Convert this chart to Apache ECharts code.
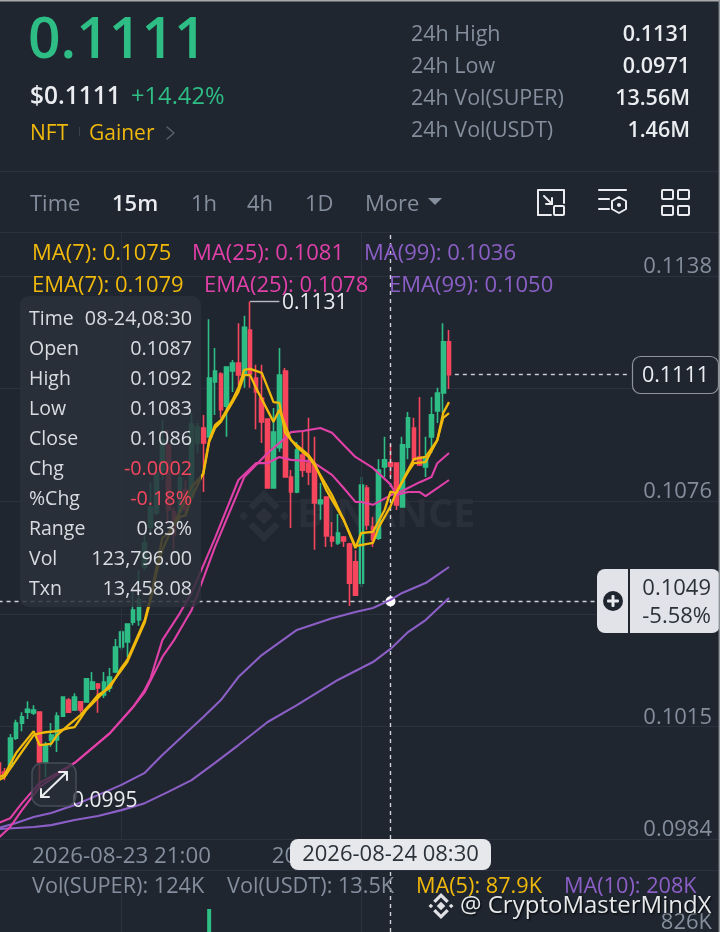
<!DOCTYPE html>
<html><head><meta charset="utf-8">
<style>html,body{margin:0;padding:0;background:#1f2630}#c{width:720px;height:932px}</style>
<script src="https://cdn.jsdelivr.net/npm/echarts@6/dist/echarts.min.js"></script>
</head><body><div id="c"></div>
<script>
const times=["15:45","16:00","16:15","16:30","16:45","17:00","17:15","17:30","17:45","18:00","18:15","18:30","18:45","19:00","19:15","19:30","19:45","20:00","20:15","20:30","20:45","21:00","21:15","21:30","21:45","22:00","22:15","22:30","22:45","23:00","23:15","23:30","23:45","00:00","00:15","00:30","00:45","01:00","01:15","01:30","01:45","02:00","02:15","02:30","02:45","03:00","03:15","03:30","03:45","04:00","04:15","04:30","04:45","05:00","05:15","05:30","05:45","06:00","06:15","06:30","06:45","07:00","07:15","07:30","07:45","08:00","08:15","08:30","08:45","09:00","09:15","09:30","09:45","10:00","10:15","10:30","10:45","11:00"];
const opens=[.10048,.10023,.10040,.10116,.10157,.10187,.10185,.10187,.10048,.10111,.10111,.10176,.10220,.10193,.10215,.10215,.10250,.10264,.10234,.10253,.10297,.10365,.10379,.10433,.10439,.10584,.10693,.10732,.10849,.10918,.10735,.10735,.10795,.10775,.10923,.10964,.10940,.11090,.11112,.11024,.11120,.11142,.11112,.11232,.11101,.11046,.10989,.10800,.10910,.11120,.10830,.10789,.10890,.10868,.10863,.10757,.10775,.10666,.10650,.10666,.10647,.10598,.10540,.10800,.10693,.10663,.10858,.1087,.10868,.10748,.10912,.10964,.10885,.10858,.10940,.11011,.11060,.11200];
const closes=[.10015,.10015,.10116,.10157,.10174,.10195,.10193,.10051,.10097,.10124,.10176,.10228,.10187,.10228,.10193,.10278,.10269,.10253,.10269,.10283,.10365,.10406,.10428,.10466,.10494,.10650,.10748,.10841,.10931,.10740,.10672,.10827,.10740,.10975,.10967,.10923,.11101,.11120,.11014,.11131,.11142,.11109,.11240,.11112,.11063,.10981,.10800,.10953,.11109,.10830,.10789,.10904,.10849,.10844,.10759,.10767,.10669,.10655,.10677,.10655,.10540,.10507,.10808,.10699,.10658,.10849,.10877,.1086,.10754,.10918,.10992,.10877,.10863,.10885,.11000,.11060,.11200,.1111];
const lows=[.10012,.10001,.10037,.10111,.10135,.10168,.10179,.09982,.10009,.10092,.10078,.10174,.10185,.10190,.10185,.10213,.10250,.10185,.10226,.10242,.10294,.10357,.10338,.10425,.10423,.10576,.10677,.10726,.10822,.10704,.10631,.10713,.10726,.10767,.10896,.10789,.10938,.11000,.10992,.10940,.11063,.11082,.11074,.11074,.10961,.10923,.10798,.10798,.10899,.10828,.10691,.10786,.10830,.10808,.10631,.10713,.10639,.10639,.10644,.10639,.10477,.10505,.10529,.10685,.10639,.10658,.10830,.1083,.10740,.10746,.10879,.10868,.10860,.10830,.10896,.10978,.11005,.11071];
const highs=[.10048,.10034,.10127,.10166,.10187,.10217,.10206,.10187,.10105,.10157,.10187,.10230,.10226,.10239,.10217,.10280,.10297,.10267,.10297,.10308,.10387,.10412,.10430,.10529,.10576,.10672,.10816,.10858,.10986,.10959,.10748,.10855,.10822,.11005,.10978,.11000,.11262,.11183,.11117,.11133,.11150,.11251,.11271,.1131,.11137,.11137,.10991,.11019,.11183,.11128,.10849,.10926,.10956,.10992,.10940,.10814,.10777,.10707,.10729,.10669,.10650,.10630,.10830,.10808,.10721,.10879,.10940,.1092,.10870,.10940,.11008,.10992,.11049,.10940,.11049,.11074,.11251,.11232];
const ema7=[[0,.10009],[1,.10015],[3,.10075],[6,.10135],[7,.10097],[9,.10100],[10,.10124],[12,.10152],[14,.10179],[16,.10215],[17,.10234],[19,.10253],[21,.10308],[22,.10330],[25,.10439],[26,.10502],[27,.10584],[28,.10663],[29,.10677],[31,.10721],[32,.10726],[33,.10775],[35,.10841],[36,.10931],[37,.10972],[38,.10986],[40,.11041],[41,.11074],[42,.11123],[43,.11126],[45,.11115],[47,.11035],[48,.11033],[49,.10951],[51,.10912],[53,.10885],[54,.10863],[57,.10781],[59,.10713],[61,.10636],[62,.10677],[64,.10680],[66,.10740],[67,.1079],[68,.10786],[70,.10849],[71,.10879],[73,.10885],[75,.10931],[76,.11005],[77,.11035]];
const ma7=[[0,.10001],[1,.10009],[3,.10056],[6,.10124],[7,.10129],[8,.10132],[10,.10135],[12,.10143],[13,.10146],[15,.10193],[17,.10226],[18,.10242],[20,.10280],[22,.10324],[25,.10433],[26,.10494],[27,.10568],[28,.10631],[29,.10666],[30,.10704],[32,.10767],[33,.10803],[35,.10838],[36,.10926],[37,.10964],[38,.10981],[40,.11035],[41,.11063],[42,.11109],[43,.11109],[44,.11074],[47,.10981],[48,.11014],[50,.10931],[53,.10890],[54,.10868],[56,.10795],[59,.10713],[61,.10641],[64,.10650],[65,.10693],[67,.1075],[68,.10789],[70,.10844],[71,.10868],[73,.10871],[75,.10931],[76,.10992],[77,.11005]];
const ema25=[[0,.09884],[2,.09897],[4,.09938],[7,.09993],[13,.10048],[19,.10129],[23,.10201],[25,.10248],[26,.10280],[28,.10384],[31,.10458],[33,.10513],[37,.10663],[41,.10822],[44,.10868],[46,.10868],[48,.10885],[50,.10877],[53,.10874],[54,.10868],[57,.10836],[59,.10800],[61,.10762],[62,.10762],[64,.10754],[67,.1078],[69,.10792],[72,.10816],[74,.10830],[75,.10868],[77,.10896]];
const ma25=[[0,.09843],[2,.09873],[4,.09919],[7,.09982],[13,.10048],[19,.10129],[23,.10201],[25,.10242],[28,.10338],[30,.10384],[32,.10439],[33,.10466],[37,.10639],[42,.10830],[44,.10863],[46,.10896],[49,.10937],[50,.10953],[52,.10956],[55,.10964],[57,.10951],[59,.10918],[61,.10885],[64,.10855],[67,.1081],[68,.10781],[70,.10789],[72,.10789],[73,.10778],[75,.10800],[77,.10822]];
const ema99=[[0,.09870],[3,.09884],[6,.09900],[9,.09911],[13,.09933],[17,.09960],[21,.09988],[25,.10021],[28,.10070],[32,.10129],[35,.10174],[38,.10220],[41,.10283],[45,.10343],[51,.10412],[57,.10444],[61,.10461],[64,.10472],[67,.10494],[69,.10513],[73,.10540],[75,.10562],[77,.10584]];
const ma99=[[0,.09867],[6,.09873],[9,.09878],[13,.09892],[17,.09903],[21,.09919],[25,.09938],[29,.09969],[33,.10001],[37,.10048],[41,.10097],[46,.10160],[51,.10206],[58,.10275],[64,.10324],[67,.1036],[70,.10406],[73,.10439],[77,.10499]];
const volumes=[[36,1300000]];
const priceTicks=[.1138,.11072,.10764,.10456,.10148,.0984];
const volTicks=[826000];
const FONT="'Open Sans'";
const G='#2EBD85',R='#F6465D',Y='#F0B90B',P='#E040A8',V='#8C5FC6',GR='#848E9C',LINE='#2b323d',W='#EAECEF';
const cats=[];
for(let i=0;i<124;i++){
  if(i<times.length){const d=i<33?'2026-08-23':'2026-08-24';cats.push(d+' '+times[i]);}else cats.push('b'+i);
}
const CURSOR=67;
const gfx=[];
function t(x,y,s,fill,size,opt){opt=opt||{};gfx.push({type:'text',x,y:y+2,z:opt.z||60,style:{text:s,fill,font:(opt.w||400)+' '+size+'px '+FONT,textAlign:opt.a||'left',textVerticalAlign:'middle',textShadowColor:opt.sc,textShadowBlur:opt.sb||0,textShadowOffsetY:opt.sy||0,textShadowOffsetX:opt.sy||0}});}
function r(x,y,w,h,fill,o){o=o||{};gfx.push({type:'rect',z:o.z||50,shape:{x,y,width:w,height:h,r:o.r||0},style:{fill,stroke:o.s||null,lineWidth:o.lw||1}});}
function pl(pts,stroke,lw,z){gfx.push({type:'polyline',z:z||60,shape:{points:pts},style:{stroke,lineWidth:lw,fill:null,lineJoin:'round',lineCap:'round'}});}
function logo(cx,cy,k,fill,z){
  const P2=(a)=>({type:'polygon',z:z,shape:{points:a.map(p=>[cx+p[0]*k,cy+p[1]*k])},style:{fill}});
  gfx.push(P2([[0,-3],[3,0],[0,3],[-3,0]]),P2([[-7,-1.6],[-5.4,0],[-7,1.6],[-8.6,0]]),P2([[7,-1.6],[8.6,0],[7,1.6],[5.4,0]]),
  P2([[0,-9],[5.4,-3.6],[3.8,-2],[0,-5.8],[-3.8,-2],[-5.4,-3.6]]),P2([[0,9],[-5.4,3.6],[-3.8,2],[0,5.8],[3.8,2],[5.4,3.6]]));
}
// frame
r(0,0,720,1.5,'#a9a9a9',{z:90});
r(718.6,0,1.4,932,'#8f949b',{z:90});
r(0,171,720,1,LINE,{z:1});
r(0,232,720,1,LINE,{z:1});
r(0,870,720,1,LINE,{z:1});
// header
t(28,40,'0.1111',G,57,{w:600});
t(30,95,'$0.1111',W,24.5,{w:600});
t(131,95,'+14.42%',G,23.7);
t(30,132,'NFT',Y,21,{w:500});
r(79,127,1,9,'#3a414c',{z:2});
t(89,132,'Gainer',Y,21,{w:500});
pl([[167,127],[174,133],[167,139]],'#5a616c',1.5);
const stats=[['24h High','0.1131',33],['24h Low','0.0971',65],['24h Vol(SUPER)','13.56M',97],['24h Vol(USDT)','1.46M',129]];
stats.forEach(a=>{t(411,a[2],a[0],GR,21.5);t(690,a[2],a[1],W,21.5,{a:'right',w:600});});
// tabs
[['Time',30,GR,400],['15m',112,W,600],['1h',191,GR,400],['4h',247,GR,400],['1D',305,GR,400],['More',365,GR,400]].forEach(a=>t(a[1],203,a[0],a[2],22,{w:a[3]}));
gfx.push({type:'polygon',z:60,shape:{points:[[428,198],[442,198],[435,205]]},style:{fill:GR}});
// icons
pl([[538,215],[538,190],[564,190],[564,203]],W,2);pl([[538,215],[551,215]],W,2);
gfx.push({type:'rect',z:60,shape:{x:554,y:206,width:10,height:9,r:1},style:{fill:null,stroke:W,lineWidth:2}});
pl([[544,196],[552,204]],W,2);pl([[552,198],[552,204],[546,204]],W,2);
pl([[599,190],[626,190]],W,2);pl([[599,199],[609,199]],W,2);pl([[599,209],[609,209]],W,2);
pl([[619,197],[626,201],[626,209],[619,213],[612,209],[612,201],[619,197]],W,2);
gfx.push({type:'circle',z:60,shape:{cx:619,cy:205,r:2},style:{fill:W}});
[[662,190],[678,190],[662,206],[678,206]].forEach(q=>gfx.push({type:'rect',z:60,shape:{x:q[0],y:q[1],width:11,height:9,r:1},style:{fill:null,stroke:W,lineWidth:2}}));
// legends
t(32,252,'MA(7): 0.1075',Y,22);t(192,252,'MA(25): 0.1081',P,22);t(364,252,'MA(99): 0.1036',V,22);
t(32,284,'EMA(7): 0.1079',Y,22);t(204,284,'EMA(25): 0.1078',P,22);t(389,284,'EMA(99): 0.1050',V,22);
// watermark
logo(264,516,2.9,'#2a303a',1);
t(297,514,'BINANCE','#2a303a',39.5,{w:700,z:1});
// high/low labels
t(282,301,'0.1131',W,21,{z:20});
t(72,799,'0.0995',W,21,{z:20});
// tooltip panel
r(20,296,181,311,'rgba(43,49,59,0.85)',{z:70,r:9});
const tip=[['Time','08-24,08:30',W],['Open','0.1087',W],['High','0.1092',W],['Low','0.1083',W],['Close','0.1086',W],['Chg','-0.0002',R],['%Chg','-0.18%',R],['Range','0.83%',W],['Vol','123,796.00',W],['Txn','13,458.08',W]];
tip.forEach((a,i)=>{const y=317+i*30;t(29,y,a[0],'#d8dbe0',19.5,{z:75});t(192,y,a[1],a[2]===W?'#d8dbe0':a[2],19.8,{z:75,a:'right'});});
// price tag
r(632.5,356.5,86,37,'#1f2630',{z:70,r:8,s:'#8f949b',lw:1.2});
t(709,374,'0.1111',W,21.5,{z:75,a:'right'});
// crosshair tag
r(597,569,123,64,'#e1e3e8',{z:70,r:8});
r(628,569,2,64,'#1f2630',{z:72});
gfx.push({type:'circle',z:73,shape:{cx:613,cy:601,r:10},style:{fill:'#1f2630'}});
r(607,599.5,12,3,'#e8eaed',{z:74,r:1});r(611.5,595,3,12,'#e8eaed',{z:74,r:1});
t(711,587,'0.1049','#2b3139',22,{z:75,a:'right'});
t(711,615,'-5.58%','#2b3139',22,{z:75,a:'right'});
// date tag
r(290,839,201,31,'#e6e8ec',{z:70,r:8});
t(390.5,853,'2026-08-24 08:30','#2b3139',22,{z:75,a:'center'});
// expand button
r(32,763,44,43,'rgba(42,48,58,0.75)',{z:70,r:10,s:'#454c58',lw:1.5});
pl([[41,797],[67,772]],W,2,75);pl([[41,789],[41,797],[49,797]],W,2,75);pl([[59,772],[67,772],[67,780]],W,2,75);
// volume legends
t(32,885,'Vol(SUPER): 124K',GR,21.7);t(227,885,'Vol(USDT): 13.5K',GR,21.7);
t(416,885,'MA(5): 87.9K',Y,21.7);t(564,885,'MA(10): 208K',V,21.7);
// attribution
logo(441,906,1.45,'#dfe1e5',80);
t(460,904,'@ CryptoMasterMindX','#e6e8ea',24,{z:80,sc:'rgba(0,0,0,0.9)',sb:2,sy:1});

const candle=opens.map((o,i)=>[o,closes[i],lows[i],highs[i]]);
const ln=(name,data,color,z,w)=>({name,type:'line',data,xAxisIndex:0,yAxisIndex:0,symbol:'none',showSymbol:false,z:z||5,lineStyle:{color,width:w||2.1},silent:true,animation:false});
const dash={color:'#cfd2d6',type:[4,4],width:1.4};
const LEFT=-4.375;
const chart=echarts.init(document.getElementById('c'),null,{renderer:'canvas'});
chart.setOption({
  animation:false,backgroundColor:'#1f2630',textStyle:{fontFamily:FONT},
  grid:[{left:LEFT,top:233,width:725.4,height:606,containLabel:false,outerBoundsMode:'none'},{left:LEFT,top:870,width:725.4,height:62,containLabel:false,outerBoundsMode:'none'}],
  xAxis:[
   {type:'category',gridIndex:0,data:cats,boundaryGap:true,axisLine:{show:false},axisTick:{show:false},splitLine:{show:false},
    axisLabel:{color:GR,fontSize:22.3,margin:7,fontFamily:FONT,hideOverlap:false,interval:(i)=>i===21||i===62}},
   {type:'category',gridIndex:1,data:cats,boundaryGap:true,axisLine:{show:false},axisTick:{show:false},axisLabel:{show:false},splitLine:{show:false}}
  ],
  yAxis:[
   {type:'value',gridIndex:0,position:'right',min:.0984,max:.114976,scale:true,
    axisLine:{show:false},axisTick:{show:false,customValues:priceTicks},
    splitLine:{show:true,lineStyle:{color:LINE,width:1}},
    axisLabel:{inside:true,customValues:priceTicks,color:GR,fontSize:22,margin:9,fontFamily:FONT,verticalAlign:'bottom',padding:[0,0,-2,0],showMinLabel:true,showMaxLabel:true,formatter:v=>v.toFixed(4)}},
   {type:'value',gridIndex:1,position:'right',min:826000,max:2104000,scale:true,axisLine:{show:false},axisTick:{show:false,customValues:volTicks},splitLine:{show:false},
    axisLabel:{inside:true,customValues:volTicks,color:GR,fontSize:22,margin:9,fontFamily:FONT,verticalAlign:'bottom',padding:[0,0,-2,0],showMinLabel:true,formatter:v=>Math.round(v/1000)+'K'}}
  ],
  series:[
   {type:'line',name:'gridV',data:[],xAxisIndex:0,yAxisIndex:0,z:1,symbol:'none',silent:true,
    markLine:{silent:true,symbol:'none',animation:false,label:{show:false},lineStyle:{color:LINE,type:'solid',width:1},data:[{xAxis:21},{xAxis:62}]}},
   {type:'candlestick',name:'SUPER',data:candle,xAxisIndex:0,yAxisIndex:0,z:3,barWidth:4.2,clip:true,silent:true,
    itemStyle:{color:G,color0:R,borderColor:G,borderColor0:R,borderWidth:1.6}},
   {type:'line',name:'cross',data:[],xAxisIndex:0,yAxisIndex:0,z:8,symbol:'none',silent:true,
    markLine:{silent:true,symbol:'none',animation:false,label:{show:false},lineStyle:dash,data:[
      {xAxis:CURSOR},
      [{coord:[0,.1049]},{coord:[123,.1049]}],
      [{coord:[77.6,.1111]},{coord:[108,.1111]}]
      ]}},
   {type:'line',name:'hi',data:[],xAxisIndex:0,yAxisIndex:0,z:2,symbol:'none',silent:true,
    markLine:{silent:true,symbol:'none',animation:false,label:{show:false},lineStyle:{color:'#b8bcc2',type:'solid',width:1.4},data:[[{coord:[43,.1131]},{coord:[48,.1131]}]]}},
   ln('MA(99)',ma99,V),ln('EMA(99)',ema99,V),ln('MA(25)',ma25,P),ln('EMA(25)',ema25,P),ln('MA(7)',ma7,Y,6,2.3),ln('EMA(7)',ema7,Y,6,2.3),
   {type:'line',name:'dot',data:[],xAxisIndex:0,yAxisIndex:0,z:9,symbol:'none',silent:true,
    markPoint:{silent:true,animation:false,symbol:'circle',symbolSize:10,label:{show:false},itemStyle:{color:'#fff'},data:[{coord:[CURSOR,.1049]}]}},
   {type:'bar',name:'Vol',data:volumes,xAxisIndex:1,yAxisIndex:1,barWidth:4,z:3,silent:true,itemStyle:{color:G},
    markLine:{silent:true,symbol:'none',animation:false,label:{show:false},lineStyle:dash,data:[{xAxis:CURSOR}]}},
   {type:'line',name:'gridV2',data:[],xAxisIndex:1,yAxisIndex:1,z:1,symbol:'none',silent:true,
    markLine:{silent:true,symbol:'none',animation:false,label:{show:false},lineStyle:{color:LINE,type:'solid',width:1},data:[{xAxis:21},{xAxis:62},{yAxis:826000}]}}
  ],
  graphic:{elements:gfx}
});
</script></body></html>
